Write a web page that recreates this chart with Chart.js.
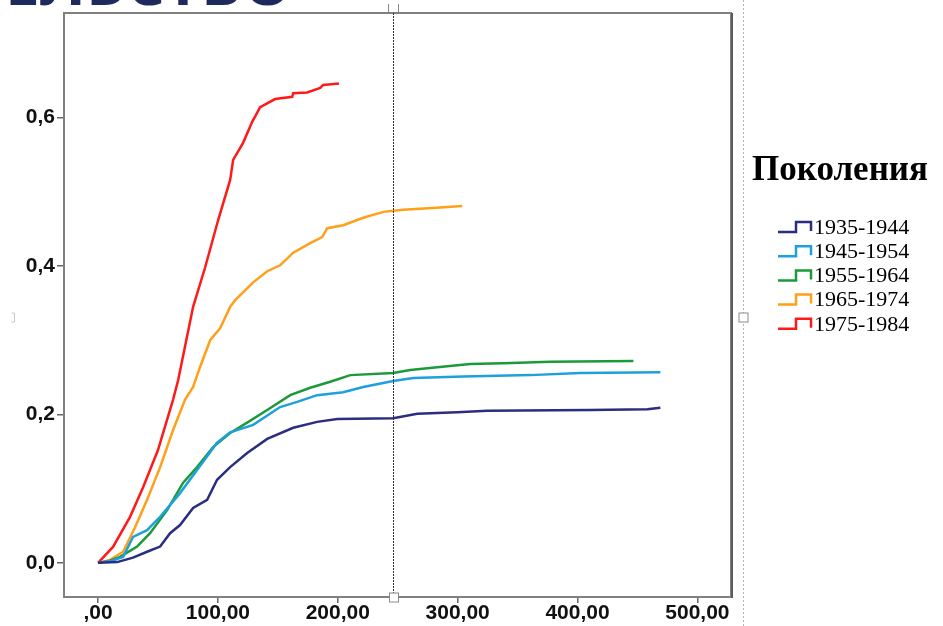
<!DOCTYPE html>
<html>
<head>
<meta charset="utf-8">
<script src="https://cdn.jsdelivr.net/npm/chart.js@4.4.1/dist/chart.umd.min.js"></script>
<style>
  html, body { margin: 0; padding: 0; background: #fff; overflow: hidden; }
  #wrap { position: relative; width: 943px; height: 626px; }
  #heading {
    position: absolute; right: 651px; top: -50px;
    font: bold 62px "Open Sans", "Liberation Sans", sans-serif;
    color: #1f2a5c; white-space: nowrap; line-height: 62px;
  }
  canvas { position: absolute; left: 0; top: 0; }
</style>
</head>
<body>
<div id="wrap">
  <div id="heading">РОДИТЕЛЬСТВО</div>
  <canvas id="survChart" width="943" height="626"></canvas>
</div>
<script>
// cumulative curves per generation (x = time, y = cumulative share)
const generations = ["1935-1944", "1945-1954", "1955-1964", "1965-1974", "1975-1984"];
const colors = ["#2b2d7f", "#1ea0dc", "#1b9a3a", "#ff9f1a", "#ff1a1a"];

const x1935 = [0, 15.9, 29.2, 40.9, 51.8, 60.1, 68.4, 79.3, 91, 99.3, 110.2, 124.4, 141.1, 162.8, 182.8, 199.5, 246.2, 266.3, 299.7, 324.7, 410.7, 458.3, 469.1];
const y1935 = [0, 0.001, 0.007, 0.015, 0.022, 0.040, 0.051, 0.074, 0.085, 0.112, 0.129, 0.148, 0.167, 0.182, 0.190, 0.194, 0.195, 0.201, 0.203, 0.205, 0.206, 0.207, 0.209];

const x1945 = [0, 11.7, 20.9, 29.2, 40.9, 51.8, 68.4, 82.6, 99.3, 110.2, 129.4, 151.9, 166.1, 182.8, 204.5, 221.2, 246.2, 262.9, 304.7, 360.6, 402.3, 469.1];
const y1945 = [0, 0.003, 0.008, 0.035, 0.044, 0.062, 0.094, 0.125, 0.162, 0.176, 0.186, 0.210, 0.217, 0.226, 0.230, 0.237, 0.245, 0.249, 0.251, 0.253, 0.256, 0.257];

const x1955 = [0, 10, 18.4, 32.6, 43.4, 57.6, 71, 82.6, 96, 110.2, 124.4, 141.1, 160.3, 177, 193.7, 210.4, 246.2, 260.4, 291.3, 310.5, 338, 377.3, 446.6];
const y1955 = [0, 0.003, 0.008, 0.022, 0.040, 0.071, 0.108, 0.129, 0.156, 0.175, 0.189, 0.206, 0.226, 0.236, 0.244, 0.253, 0.256, 0.260, 0.265, 0.268, 0.269, 0.271, 0.272];

const x1965 = [0, 10, 20.9, 30.9, 40.9, 51.8, 62.6, 72.6, 79.3, 85.1, 93.5, 101.8, 110.2, 114.4, 129.4, 141.1, 151.9, 162.8, 177, 187, 191.2, 204.5, 221.2, 237.9, 254.6, 285.5, 303.8];
const y1965 = [0, 0.004, 0.015, 0.048, 0.085, 0.129, 0.179, 0.220, 0.237, 0.264, 0.300, 0.316, 0.345, 0.354, 0.378, 0.393, 0.401, 0.418, 0.431, 0.439, 0.451, 0.455, 0.465, 0.473, 0.476, 0.479, 0.481];

const x1975 = [0, 12.5, 26.7, 37.6, 50, 62.6, 66.8, 79.3, 89.3, 100.2, 110.2, 112.7, 121, 128.5, 135.2, 147.7, 162, 162.8, 174.5, 185.3, 187.8, 201];
const y1975 = [0, 0.0215, 0.062, 0.102, 0.152, 0.220, 0.246, 0.345, 0.398, 0.462, 0.516, 0.543, 0.566, 0.594, 0.614, 0.625, 0.628, 0.633, 0.634, 0.640, 0.644, 0.646];

const xSeries = [x1935, x1945, x1955, x1965, x1975];
const ySeries = [y1935, y1945, y1955, y1965, y1975];

const xTicks = [0, 100, 200, 300, 400, 500];
const xTickLabels = [",00", "100,00", "200,00", "300,00", "400,00", "500,00"];
const yTicks = [0, 0.2, 0.4, 0.6];
const yTickLabels = ["0,0", "0,2", "0,4", "0,6"];
const refLineX = 246;

const tickFont = { family: "'Liberation Sans', Arial, sans-serif", size: 21, weight: "bold" };

const datasets = generations.map((g, i) => ({
    label: g,
    data: xSeries[i].map((x, j) => ({ x: x, y: ySeries[i][j] })),
    borderColor: colors[i],
    backgroundColor: colors[i],
    borderWidth: 2.5,
    pointRadius: 0,
    tension: 0,
    fill: false
}));

// frame, reference line, editor handles and legend
const extras = {
    id: "extras",
    afterDraw(chart) {
        const c = chart.ctx;
        const a = chart.chartArea;
        const xs = chart.scales.x;
        c.save();

        // plot frame
        c.strokeStyle = "#808080";
        c.lineWidth = 2;
        c.strokeRect(a.left, a.top, a.right - a.left, a.bottom - a.top);
        c.strokeStyle = "#5c5c5c";
        c.beginPath();
        c.moveTo(a.right + 1, a.top);
        c.lineTo(a.right + 1, a.bottom + 1);
        c.stroke();

        // dashed reference line
        const rx = Math.round(xs.getPixelForValue(refLineX)) + 0.5;
        c.strokeStyle = "#333";
        c.lineWidth = 1;
        c.setLineDash([2, 1]);
        c.beginPath();
        c.moveTo(rx, a.top);
        c.lineTo(rx, a.bottom);
        c.stroke();

        // right editor boundary
        c.strokeStyle = "#b5b5b5";
        c.setLineDash([2, 2]);
        c.beginPath();
        c.moveTo(743.5, 0);
        c.lineTo(743.5, 626);
        c.stroke();
        c.setLineDash([]);

        // handles
        c.strokeStyle = "#8a8a8a";
        c.fillStyle = "#fff";
        c.lineWidth = 1;
        c.beginPath();
        c.moveTo(rx - 5, a.top - 1); c.lineTo(rx - 5, 4);
        c.moveTo(rx + 5, a.top - 1); c.lineTo(rx + 5, 4);
        c.stroke();
        c.fillRect(rx - 4, a.bottom - 4, 9, 9);
        c.strokeRect(rx - 4, a.bottom - 4, 9, 9);
        c.fillRect(739, 313, 9, 9);
        c.strokeRect(739, 313, 9, 9);
        c.strokeStyle = "#c8c8c8";
        c.beginPath();
        c.moveTo(11.5, 313); c.lineTo(14.5, 313); c.lineTo(14.5, 322); c.lineTo(11.5, 322);
        c.stroke();

        // legend
        c.fillStyle = "#000";
        c.font = "bold 35px 'Liberation Serif', serif";
        c.textBaseline = "alphabetic";
        c.fillText("Поколения", 752, 180);
        c.font = "22px 'Liberation Serif', serif";
        c.lineWidth = 2.5;
        chart.data.datasets.forEach((ds, i) => {
            const cy = 227 + i * 24.2;
            c.strokeStyle = ds.borderColor;
            c.beginPath();
            c.moveTo(778, cy + 5);
            c.lineTo(796, cy + 5);
            c.lineTo(796, cy - 5);
            c.lineTo(811, cy - 5);
            c.lineTo(811, cy + 4);
            c.stroke();
            c.fillStyle = "#000";
            c.textBaseline = "middle";
            c.fillText(ds.label, 814, cy + 1);
        });
        c.restore();
    }
};

const ctx = document.getElementById("survChart").getContext("2d");
new Chart(ctx, {
    type: "line",
    data: { datasets: datasets },
    options: {
        responsive: false,
        animation: false,
        layout: { padding: { top: 13, right: 212, left: 0, bottom: 0 } },
        plugins: { legend: { display: false }, tooltip: { enabled: false } },
        scales: {
            x: {
                type: "linear",
                min: -28.4,
                max: 528,
                afterBuildTicks: s => { s.ticks = xTicks.map(v => ({ value: v })); },
                afterFit: s => { s.height = 29; s.paddingLeft = 0; s.paddingRight = 0; },
                ticks: {
                    callback: (v, i) => xTickLabels[i],
                    font: tickFont,
                    color: "#111",
                    padding: -2,
                    maxRotation: 0,
                    autoSkip: false
                },
                grid: { drawOnChartArea: false, drawTicks: true, tickLength: 6, color: "#666", lineWidth: 1.5 },
                border: { display: false }
            },
            y: {
                type: "linear",
                min: -0.046,
                max: 0.741,
                afterBuildTicks: s => { s.ticks = yTicks.map(v => ({ value: v })); },
                afterFit: s => { s.width = 64; s.paddingTop = 0; s.paddingBottom = 0; },
                ticks: {
                    callback: (v, i) => yTickLabels[i],
                    font: tickFont,
                    color: "#111",
                    padding: 2,
                    autoSkip: false
                },
                grid: { drawOnChartArea: false, drawTicks: true, tickLength: 7, color: "#666", lineWidth: 1.5 },
                border: { display: false }
            }
        }
    },
    plugins: [extras]
});
</script>
</body>
</html>
